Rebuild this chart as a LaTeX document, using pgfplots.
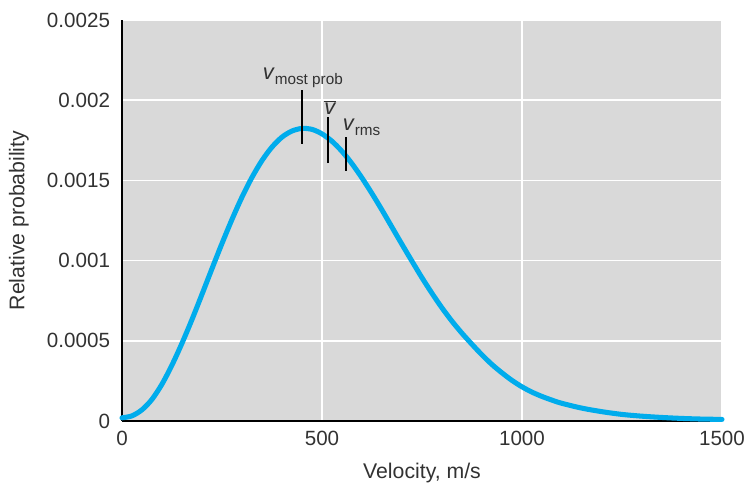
\documentclass[border=0pt]{standalone}
\usepackage{fontspec}
\setmainfont{Liberation Sans}
\usepackage{pgfplots}
\pgfplotsset{compat=1.18}
\usetikzlibrary{calc}
\definecolor{curve}{RGB}{0,172,236}
\definecolor{bg}{RGB}{217,217,217}
\definecolor{txt}{RGB}{50,50,50}
\newcommand{\vsym}[1]{{\fontsize{16.5}{19}\selectfont\textit{v}}\raisebox{-3.5bp}{\fontsize{11.5}{13}\selectfont #1}}
\begin{document}
\begin{tikzpicture}
\begin{axis}[
  name=ax,
  scale only axis,
  width=450bp, height=300.75bp,
  xmin=0, xmax=1500, ymin=0, ymax=0.0025,
  axis x line*=bottom, axis y line*=left,
  axis line style={black, line width=1.2pt},
  axis background/.style={fill=bg},
  xtick={0,500,1000,1500},
  ytick={0,0.0005,0.001,0.0015,0.002,0.0025},
  yticklabels={0,0.0005,0.001,0.0015,0.002,0.0025},
  xticklabels={0,500,1000,1500},
  scaled y ticks=false,
  major tick length=0pt,
  grid=major,
  major grid style={white, line width=1.1pt},
  tick label style={font=\fontsize{15.5}{18}\selectfont, text=txt},
  yticklabel style={xshift=-5.5bp},
  xticklabel style={yshift=-4bp},
  label style={font=\fontsize{16}{19}\selectfont, text=txt},
  xlabel={Velocity, m/s},
  ylabel={Relative probability},
  xlabel style={at={(axis description cs:0.5,-0.13)}, anchor=center},
  ylabel style={at={(axis description cs:-0.172,0.5)}, anchor=center},
  clip=false,
]
\addplot[curve, line width=3.8pt, smooth, line cap=round] coordinates {
(0,0.00002) (25,0.000032) (50,0.00007) (75,0.000135) (100,0.00023)
(125,0.000349) (150,0.000485) (175,0.000633) (200,0.00079) (225,0.00095)
(250,0.001107) (275,0.001257) (300,0.001396) (325,0.001519) (350,0.001624)
(375,0.001708) (400,0.00177) (425,0.001808) (450,0.001824) (475,0.001818)
(500,0.00179) (525,0.001744) (550,0.001681) (575,0.001604) (600,0.001515)
(625,0.001418) (650,0.001315) (675,0.001208) (700,0.001101) (725,0.000996)
(750,0.000893) (775,0.000796) (800,0.000705) (825,0.000622) (850,0.000547)
(875,0.000478) (900,0.000412) (925,0.000352) (950,0.000300) (975,0.000253)
(1000,0.000213) (1025,0.00018) (1050,0.000153) (1075,0.00013)
(1100,0.000110) (1150,0.000080) (1200,0.000058) (1250,0.000041) (1300,0.000030)
(1350,0.000022) (1400,0.000016) (1450,0.000012) (1500,0.00001)
};
\addplot[black, line width=1pt] coordinates {(450,0.001727) (450,0.002064)};
\addplot[black, line width=1pt] coordinates {(515,0.001608) (515,0.001895)};
\addplot[black, line width=1pt] coordinates {(560,0.001559) (560,0.001770)};
\node[anchor=south, inner sep=1.5bp, text=txt] at (axis cs:452,0.002064) {\vsym{most prob}};
\node[anchor=south, inner sep=1.5bp, text=txt] at (axis cs:521,0.001895) {$\overline{\mbox{\fontsize{16.5}{19}\selectfont\textit{v}}}$};
\node[anchor=south west, inner sep=1bp, text=txt] at (axis cs:548,0.001770) {\vsym{rms}};
\end{axis}
\pgfresetboundingbox
\useasboundingbox ($(ax.south west)+(-91.5bp,-47.25bp)$) rectangle ($(ax.north east)+(19.5bp,15bp)$);
\end{tikzpicture}
\end{document}
